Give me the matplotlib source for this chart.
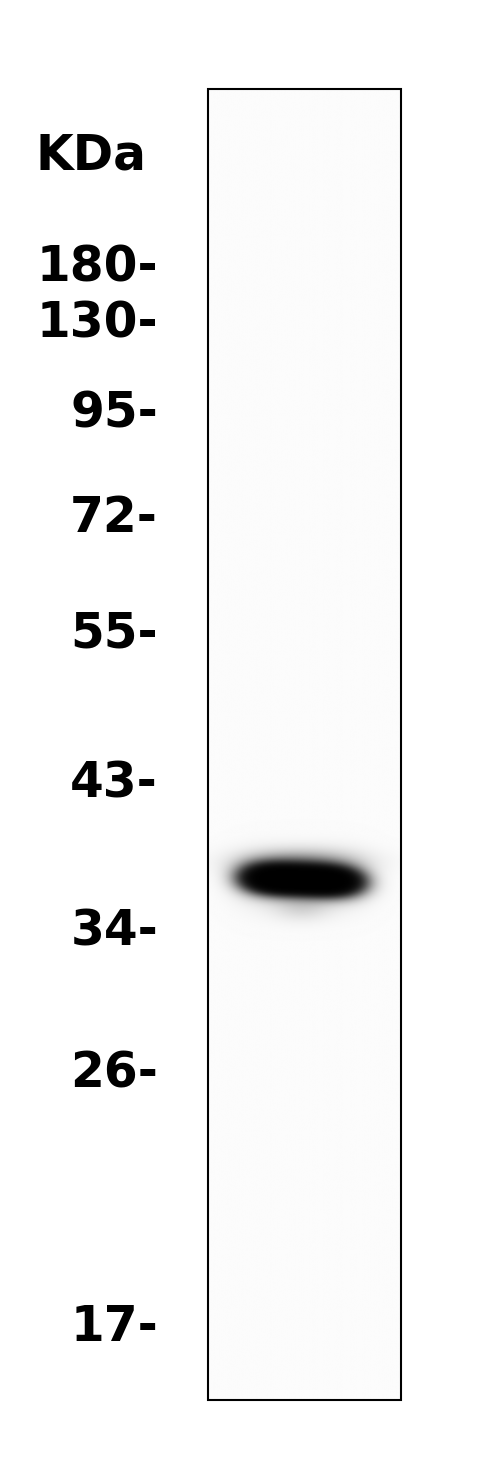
import numpy as np
import matplotlib
matplotlib.use("Agg")
import matplotlib.pyplot as plt
from matplotlib.patches import Rectangle

# ---- data ----
marker_labels = ["180-", "130-", "95-", "72-", "55-", "43-", "34-", "26-", "17-"]
marker_y = [265, 320, 410, 515, 631, 780, 928, 1071, 1324]   # migration position (px)
unit_label = "KDa"
unit_y = 153

# lane geometry
lane_left, lane_right = 208, 401
lane_top, lane_bottom = 89, 1400

# detected band (migration position, lane centre, intensity)
band_y = [880]
band_x = [302]
band_halfwidth = [44]
band_halfheight = [9]
band_amp = [4.5]

W, H = 500, 1483
fig = plt.figure(figsize=(W / 100, H / 100), dpi=100)
ax = fig.add_axes([0, 0, 1, 1])
ax.set_xlim(0, W)
ax.set_ylim(H, 0)
ax.axis("off")

# lane image
xs = np.linspace(lane_left, lane_right, 400)
ys = np.linspace(lane_top, lane_bottom, 2600)
X, Y = np.meshgrid(xs, ys)
dens = np.full_like(X, 0.015)
for by, bx, hw, hh, a in zip(band_y, band_x, band_halfwidth, band_halfheight, band_amp):
    dx = X - bx
    cy = by + 0.035 * dx
    core = a * np.exp(-0.5 * (np.abs(dx) / hw) ** 3.5 - 0.5 * ((Y - cy) / hh) ** 2)
    halo = 0.3 * np.exp(-0.5 * ((dx + 2) / 40) ** 2 - 0.5 * ((Y - (by - 18)) / 9) ** 2)
    glow = 0.15 * np.exp(-0.5 * (np.abs(dx) / 55) ** 4 - 0.5 * ((Y - by) / 18) ** 2)
    tail = 0.12 * np.exp(-0.5 * (dx / 20) ** 2 - 0.5 * ((Y - (by + 28)) / 9) ** 2)
    dens += core + halo + glow + tail
img = 1 - np.tanh(dens)
ax.imshow(img, cmap="gray", vmin=0, vmax=1, extent=(lane_left, lane_right, lane_bottom, lane_top),
          aspect="auto", interpolation="bilinear", zorder=1)

ax.add_patch(Rectangle((lane_left, lane_top), lane_right - lane_left, lane_bottom - lane_top,
                       fill=False, edgecolor="black", lw=1.5, zorder=3))

fs = 35
ax.text(146, unit_y + 3, unit_label, ha="right", va="center", fontsize=fs,
        fontweight="bold", family="DejaVu Sans", color="black")
for lab, y in zip(marker_labels, marker_y):
    ax.text(158, y + 3, lab, ha="right", va="center", fontsize=fs,
            fontweight="bold", family="DejaVu Sans", color="black")

fig.savefig("out.png", dpi=100, facecolor="white")
